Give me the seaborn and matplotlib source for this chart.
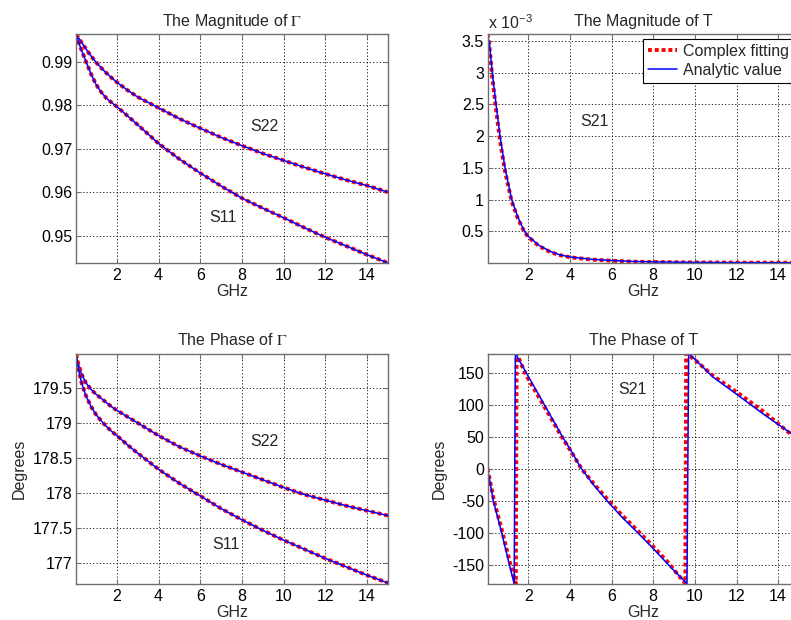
import matplotlib
matplotlib.use("Agg")
import matplotlib.pyplot as plt
import seaborn as sns
from matplotlib.ticker import FuncFormatter

# ---------------- data ----------------
freq_gamma = [0.04, 0.15, 0.3, 0.5, 0.75, 1.0, 1.25, 1.5, 1.75, 2, 2.5, 3, 4, 5, 6, 7, 8, 9, 10, 11, 12, 13, 14, 15]

mag_s22 = [0.9963, 0.9956, 0.9945, 0.9931, 0.9914, 0.9899, 0.9886, 0.9874, 0.9863, 0.9853, 0.9835,
           0.9819, 0.9794, 0.9769, 0.9747, 0.9726, 0.9707, 0.9689, 0.9673, 0.9657, 0.9642,
           0.9628, 0.9615, 0.9600]
mag_s11 = [0.9963, 0.9947, 0.9927, 0.9903, 0.9873, 0.9848, 0.9830, 0.9816, 0.9806, 0.9797, 0.9776,
           0.9755, 0.9712, 0.9676, 0.9644, 0.9614, 0.9586, 0.9563, 0.9541, 0.9518, 0.9496,
           0.9476, 0.9456, 0.9437]

ph_s22 = [179.98, 179.84, 179.70, 179.58, 179.48, 179.41, 179.35, 179.29, 179.23, 179.18, 179.09,
          179.00, 178.82, 178.66, 178.53, 178.41, 178.30, 178.19, 178.08, 177.98, 177.90,
          177.82, 177.75, 177.68]
ph_s11 = [179.98, 179.78, 179.58, 179.40, 179.24, 179.12, 179.03, 178.95, 178.88, 178.82, 178.69,
          178.57, 178.34, 178.14, 177.96, 177.78, 177.62, 177.47, 177.33, 177.20, 177.07,
          176.95, 176.83, 176.72]

freq_t = [0.04, 0.12, 0.27, 0.45, 0.64, 0.88, 1.2, 1.5, 1.81, 2.0, 2.5, 3.07, 3.5, 4.0, 5.0, 6.0, 7.0, 8.0, 10.0, 12.0, 15.0]
mag_t_analytic = [3.56, 3.50, 3.00, 2.50, 2.00, 1.50, 1.00, 0.72, 0.50, 0.42, 0.28, 0.18, 0.13, 0.095,
                  0.06, 0.04, 0.025, 0.017, 0.010, 0.006, 0.004]   # x 1e-3
mag_t_fit = [3.61, 3.47, 2.92, 2.42, 1.93, 1.45, 0.97, 0.70, 0.49, 0.41, 0.27, 0.17, 0.125, 0.09,
             0.055, 0.035, 0.022, 0.015, 0.009, 0.006, 0.004]      # x 1e-3

ph_t_freq_analytic = [0.04, 0.32, 0.72, 1.09, 1.32, 1.38, 1.88, 2.75, 3.6, 4.05, 4.55, 5.15, 5.8,
                      6.5, 7.25, 8.0, 8.72, 9.62, 9.70, 10.0, 10.88, 12.08, 13.3, 14.64, 15.0]
ph_t_analytic = [0, -50, -100, -150, -180, 180, 151, 101, 52, 28, 0, -26, -51,
                 -76, -100, -125, -150, -180, 180, 171, 143, 114.5, 85, 54.7, 46]
ph_t_freq_fit = [0.04, 0.35, 0.76, 1.14, 1.40, 1.44, 1.88, 2.75, 3.6, 4.05, 4.55, 5.15, 5.8,
                 6.5, 7.25, 8.0, 8.72, 9.54, 9.58, 10.0, 10.88, 12.08, 13.3, 14.64, 15.0]
ph_t_fit = [0, -50, -100, -150, -180, 180, 147, 98, 50, 27, 0, -24, -48,
            -73, -97, -122, -147, -180, 180, 170, 145, 118, 89, 53, 45]

x_ticks = [2, 4, 6, 8, 10, 12, 14]
yt_mag_g = [0.95, 0.96, 0.97, 0.98, 0.99]
yt_ph_g = [177, 177.5, 178, 178.5, 179, 179.5]
yt_mag_t = [0.5, 1, 1.5, 2, 2.5, 3, 3.5]
yt_ph_t = [-150, -100, -50, 0, 50, 100, 150]

# ---------------- style ----------------
sns.set_theme(style="white")
plt.rcParams["font.family"] = ["Liberation Sans", "DejaVu Sans"]
plt.rcParams["mathtext.fontset"] = "stix"
FS = 11.5

W, H = 791, 620
fig = plt.figure(figsize=(W / 100, H / 100), dpi=100)
fig.patch.set_facecolor("white")


def px_axes(x0, y0, x1, y1):
    return fig.add_axes([x0 / W, (H - y1) / H, (x1 - x0) / W, (y1 - y0) / H])


ax_tl = px_axes(76, 34, 388, 263)
ax_tr = px_axes(487.5, 34, 799, 263)
ax_bl = px_axes(76, 353.5, 388, 583.7)
ax_br = px_axes(487.5, 353.5, 799, 583.7)

RED = "#ff0000"
BLUE = "#0000ff"
DOT = (0, (1.0, 0.75))


def draw(ax, x, y_fit, y_ana, fit_x=None):
    sns.lineplot(x=fit_x if fit_x is not None else x, y=y_fit, ax=ax, color=RED, linewidth=2.8,
                 linestyle=DOT, sort=False, estimator=None, label="Complex fitting")
    sns.lineplot(x=x, y=y_ana, ax=ax, color=BLUE, linewidth=1.1, sort=False,
                 estimator=None, label="Analytic value")


draw(ax_tl, freq_gamma, mag_s22, mag_s22)
draw(ax_tl, freq_gamma, mag_s11, mag_s11)
draw(ax_bl, freq_gamma, ph_s22, ph_s22)
draw(ax_bl, freq_gamma, ph_s11, ph_s11)
draw(ax_tr, freq_t, mag_t_fit, mag_t_analytic)
draw(ax_br, ph_t_freq_analytic, ph_t_fit, ph_t_analytic, fit_x=ph_t_freq_fit)

fmt = FuncFormatter(lambda v, p: f"{v:g}")

for ax, yl, yt in [(ax_tl, (0.9437, 0.9964), yt_mag_g), (ax_tr, (0.0, 3.61), yt_mag_t),
                   (ax_bl, (176.71, 179.99), yt_ph_g), (ax_br, (-180, 180), yt_ph_t)]:
    ax.set_xlim(0.04, 15)
    ax.set_ylim(*yl)
    ax.set_xticks(x_ticks)
    ax.set_yticks(yt)
    ax.xaxis.set_major_formatter(fmt)
    ax.yaxis.set_major_formatter(fmt)
    ax.grid(True, color="black", linestyle=(0, (1.5, 2.5)), linewidth=0.6)
    ax.set_facecolor("white")
    for s in ax.spines.values():
        s.set_color("#6e6e6e")
        s.set_linewidth(1.0)
    ax.tick_params(axis="both", which="major", direction="in", length=3.5, width=0.8,
                   color="#6e6e6e", labelsize=FS, labelcolor="black",
                   top=True, right=True, bottom=True, left=True)
    ax.tick_params(axis="x", pad=3.5)
    ax.tick_params(axis="y", pad=2.5)
    ax.set_xlabel("GHz", fontsize=FS, labelpad=1.0)
    if ax.get_legend() is not None:
        ax.get_legend().remove()

ax_tl.set_title(r"The Magnitude of $\Gamma$", fontsize=FS, pad=6)
ax_tr.set_title("The Magnitude of T", fontsize=FS, pad=6)
ax_bl.set_title(r"The Phase of $\Gamma$", fontsize=FS, pad=6)
ax_br.set_title("The Phase of T", fontsize=FS, pad=6)

ax_bl.set_ylabel("Degrees", fontsize=FS, labelpad=4)
ax_br.set_ylabel("Degrees", fontsize=FS, labelpad=4)

# curve labels
ax_tl.text(9.08, 0.9750, "S22", fontsize=FS, ha="center", va="center")
ax_tl.text(7.09, 0.9542, "S11", fontsize=FS, ha="center", va="center")
ax_bl.text(9.06, 178.73, "S22", fontsize=FS, ha="center", va="center")
ax_bl.text(7.21, 177.27, "S11", fontsize=FS, ha="center", va="center")
ax_tr.text(5.2, 2.23, "S21", fontsize=FS, ha="center", va="center")
ax_br.text(6.98, 124, "S21", fontsize=FS, ha="center", va="center")

# exponent label
ax_tr.text(0.0, 1.025, r"x 10$^{\mathregular{-3}}$", transform=ax_tr.transAxes,
           fontsize=FS, ha="left", va="baseline")

# legend
h, l = ax_tr.get_legend_handles_labels()
leg = ax_tr.legend(h[:2], l[:2], loc="upper right",
                   bbox_to_anchor=(1 - 5 / 311.5, 1 - 5 / 229), borderaxespad=0,
                   fontsize=FS, frameon=True, fancybox=False, edgecolor="black",
                   framealpha=1, labelspacing=0.25, borderpad=0.3,
                   handlelength=1.8, handletextpad=0.4)
leg.get_frame().set_linewidth(0.8)

fig.savefig("out.png", dpi=100, facecolor="white")
